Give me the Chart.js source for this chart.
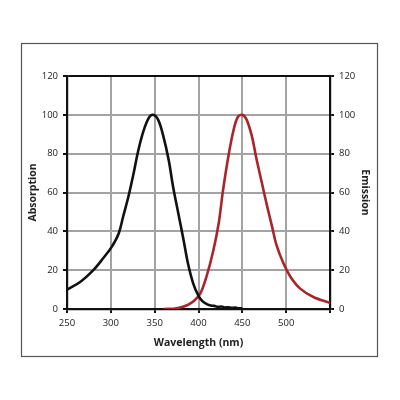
<!DOCTYPE html>
<html>
<head>
<meta charset="utf-8">
<script src="https://cdn.jsdelivr.net/npm/chart.js@4/dist/chart.umd.min.js"></script>
<style>
html,body{margin:0;padding:0;background:#fff;}
#wrap{width:400px;height:400px;}
</style>
</head>
<body>
<div id="wrap"><canvas id="c" width="400" height="400"></canvas></div>
<script>
const absWavelength = [250,265,280,291,301,309,314,320,326,331,337,343,348,354,360,366,371,377,383,388,394,400,405,410,414,418,422,426,430,434,438,442,446,450];
const absValues     = [10,13.9,20,26,32,38.9,47.5,57.8,69.9,81,91.3,98.2,100,97.4,88.8,76.7,63,49.2,35.4,23.4,13.1,6.8,3.8,2.4,1.8,1.6,1.1,1.3,0.8,0.9,0.6,0.7,0.4,0.4];
const emWavelength  = [360,375,387,395,402,409,417,423,428,434,440,445,450,455,461,466,472,478,484,489,497,505,516,531,550];
const emValues      = [0,0.4,1.9,4.2,7.9,16.5,30.3,44,61.2,78.4,92.2,99,100,97.4,88.8,77.6,65.5,53.5,42.3,32.9,23.4,16.5,10.5,6.2,3.1];
const xTicks = [250,300,350,400,450,500,550];
const xTickLabels = ['250','300','350','400','450','500',''];
const yTicks = [0,20,40,60,80,100,120];

const font = "'Open Sans', 'DejaVu Sans', sans-serif";
const frame = {
  id:'frame',
  beforeDraw(chart){
    const c = chart.ctx;
    c.save();
    c.fillStyle='#fff'; c.fillRect(0,0,chart.width,chart.height);
    c.strokeStyle='#555'; c.lineWidth=1.2;
    c.strokeRect(21.5,43.5,356,313);
    c.restore();
  }
};

new Chart(document.getElementById('c'), {
  type:'line',
  data:{
    datasets:[
      {label:'Absorption', data:absWavelength.map((x,i)=>({x, y:absValues[i]})), borderColor:'#111', borderWidth:2.6, pointRadius:0, tension:0.35, yAxisID:'y', fill:false},
      {label:'Emission', data:emWavelength.map((x,i)=>({x, y:emValues[i]})), borderColor:'#a8262b', borderWidth:2.6, pointRadius:0, tension:0.35, yAxisID:'y2', fill:false}
    ]
  },
  options:{
    responsive:false, animation:false, devicePixelRatio:1,
    layout:{padding:{left:27, right:29, top:76, bottom:51}},
    plugins:{legend:{display:false}, tooltip:{enabled:false}},
    scales:{
      x:{type:'linear', min:250, max:550,
        afterBuildTicks(s){ s.ticks = xTicks.map(v=>({value:v})); },
        afterFit(s){ s.height = 40; },
        ticks:{callback:(v)=>xTickLabels[xTicks.indexOf(v)], font:{family:font,size:9.5}, color:'#222', padding:5, maxRotation:0, autoSkip:false},
        grid:{color:(ctx)=> (ctx.tick && ctx.tick.value===550) ? '#111' : '#a3a3a3', lineWidth:2, tickColor:'#111', tickLength:4},
        border:{color:'#111', width:2.2},
        title:{display:true, text:'Wavelength (nm)', font:{family:font,size:10.5,weight:'bold'}, color:'#222', padding:{top:2,bottom:0}}
      },
      y:{type:'linear', position:'left', min:0, max:120,
        afterBuildTicks(s){ s.ticks = yTicks.map(v=>({value:v})); },
        afterFit(s){ s.width = 40; },
        ticks:{font:{family:font,size:9.5}, color:'#222', padding:5},
        grid:{color:(ctx)=> (ctx.tick && ctx.tick.value===120) ? '#111' : '#a3a3a3', lineWidth:2, tickColor:'#111', tickLength:4},
        border:{color:'#111', width:2.2},
        title:{display:true, text:'Absorption', font:{family:font,size:10.5,weight:'bold'}, color:'#222', padding:{top:0,bottom:2}}
      },
      y2:{type:'linear', position:'right', min:0, max:120,
        afterBuildTicks(s){ s.ticks = yTicks.map(v=>({value:v})); },
        afterFit(s){ s.width = 41; },
        ticks:{font:{family:font,size:9.5}, color:'#222', padding:5},
        grid:{drawOnChartArea:false, tickColor:'#111', tickLength:4, lineWidth:2},
        border:{color:'#111', width:2.2},
        title:{display:true, text:'Emission', font:{family:font,size:10.5,weight:'bold'}, color:'#222', padding:{top:0,bottom:2}}
      }
    }
  },
  plugins:[frame]
});
</script>
</body>
</html>
